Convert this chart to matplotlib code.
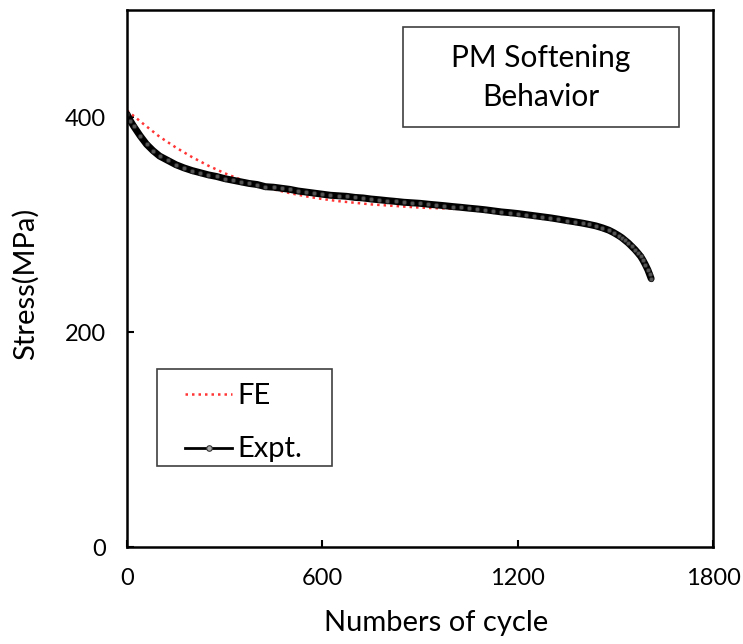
import numpy as np
import matplotlib
matplotlib.use("Agg")
import matplotlib.pyplot as plt
from matplotlib.patches import Rectangle
from matplotlib.lines import Line2D

plt.rcParams['font.family'] = ['Lato', 'DejaVu Sans']

W, H = 743, 644

# FE prediction (cycles, stress in MPa)
fe_cycles = [0, 50, 100, 150, 200, 250, 300, 350, 400, 450, 500, 550, 600,
             650, 700, 750, 800, 850, 900, 950, 1000, 1050]
fe_stress = [406.5, 394, 382, 372, 363, 355, 348, 342, 337, 333, 329.5, 326.5,
             324, 322, 320.5, 319, 318, 317, 316, 315.5, 315, 314.5]

# measured softening curve
expt_cycles = [0, 10, 20, 40, 60, 80, 100, 125, 150, 175, 200, 225, 250, 275,
               300, 325, 350, 375, 400, 425, 450, 475, 500, 525, 550, 575, 600,
               625, 650, 675, 700, 725, 750, 775, 800, 825, 850, 875, 900, 925,
               950, 975, 1000, 1025, 1050, 1075, 1100, 1125, 1150, 1175, 1200,
               1225, 1250, 1275, 1300, 1325, 1350, 1375, 1400, 1420, 1440, 1460,
               1480, 1495, 1510, 1520, 1530, 1540, 1550, 1560, 1570, 1578, 1585,
               1592, 1600, 1605, 1610]
expt_stress = [403, 397, 392, 383, 375, 369, 364, 360, 356, 353, 350.5, 348.5,
               346.5, 345, 343, 341.5, 340, 338.5, 337.5, 335.5, 335, 334, 333,
               331.5, 330.5, 329.5, 328.5, 327.5, 327, 326.5, 325.5, 325, 324,
               323.3, 322.5, 321.8, 321, 320.5, 320, 319.2, 318.5, 317.8, 317,
               316.3, 315.5, 314.8, 314, 313, 312, 311.3, 310.5, 309.5, 308.5,
               307.5, 306.5, 305.3, 304, 302.8, 301.5, 300.3, 299, 297.2, 295,
               292.7, 290, 288, 285.5, 283, 280, 277, 273.5, 270.5, 267, 263,
               258, 254, 250]

x_ticks = [0, 600, 1200, 1800]
y_ticks = [0, 200, 400]


def px(x, y):
    # pixel position (from top-left) -> figure fraction
    return x / W, 1 - y / H


fig = plt.figure(figsize=(W / 100, H / 100), dpi=100)
ax = fig.add_axes([127 / W, 1 - 547 / H, 586 / W, 537 / H])

fe_style = dict(color='#ff3535', linestyle=(0, (1, 1.6)), linewidth=1.8)
ax.plot(fe_cycles, fe_stress, **fe_style)
ax.plot(expt_cycles, expt_stress, color='black', linewidth=5,
        solid_capstyle='round', marker='o', markersize=3.2,
        markerfacecolor='#555555', markeredgecolor='#222222',
        markeredgewidth=0.6)

ax.set_xlim(0, 1800)
ax.set_ylim(0, 500)
ax.set_xticks(x_ticks)
ax.set_yticks(y_ticks)
ax.tick_params(direction='in', length=5, width=1.5, labelsize=17,
               colors='black')
ax.tick_params(axis='x', pad=15)
ax.tick_params(axis='y', pad=15)
for s in ax.spines.values():
    s.set_linewidth(1.8)

ax.set_xlabel('Numbers of cycle', fontsize=21)
ax.set_ylabel('Stress(MPa)', fontsize=21)
ax.xaxis.set_label_coords(0.527, -0.118)
ax.yaxis.set_label_coords(-0.15, 0.49)

# legend box
fig.patches.append(Rectangle(px(157.3, 466), 174.4 / W, 96.7 / H,
                             transform=fig.transFigure, fill=False,
                             edgecolor='#404040', linewidth=1.2))
x0, y0 = px(185, 394)
x1, y1 = px(232, 394)
fig.add_artist(Line2D([x0, x1], [y0, y1], transform=fig.transFigure,
                      **fe_style))
fig.text(*px(237, 404), 'FE', ha='left', va='baseline', fontsize=21)
x0, y0 = px(185, 448)
x1, y1 = px(232, 448)
fig.add_artist(Line2D([x0, x1], [y0, y1], transform=fig.transFigure,
                      color='black', linewidth=2))
fig.add_artist(Line2D([(x0 + x1) / 2], [y0], transform=fig.transFigure,
                      marker='o', markersize=4, markerfacecolor='#aaaaaa',
                      markeredgecolor='#333333', markeredgewidth=0.8))
fig.text(*px(237, 457.3), 'Expt.', ha='left', va='baseline', fontsize=21)

# title box in the upper right
fig.patches.append(Rectangle(px(402.7, 127.3), 276.6 / W, 100 / H,
                             transform=fig.transFigure, fill=False,
                             edgecolor='#404040', linewidth=1.2))
fig.text(*px(541, 66.7), 'PM Softening', ha='center', va='baseline',
         fontsize=21.5)
fig.text(*px(541, 106), 'Behavior', ha='center', va='baseline',
         fontsize=21.5)

fig.savefig('out.png', dpi=100)
